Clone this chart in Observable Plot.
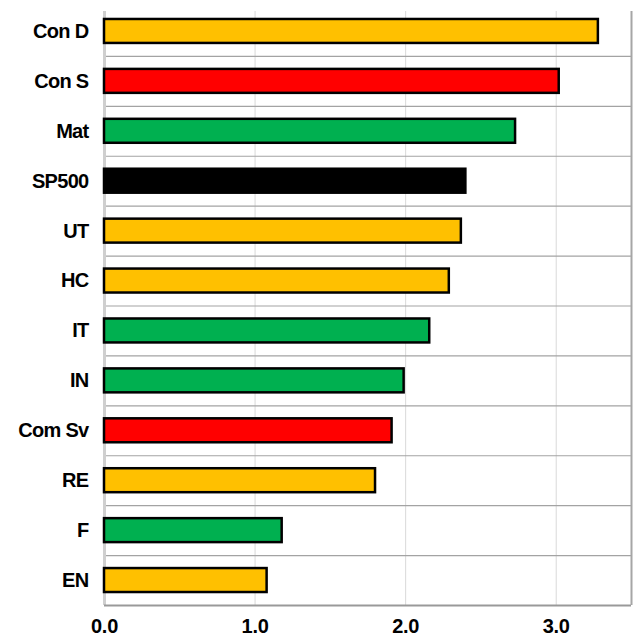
<!DOCTYPE html>
<html>
<head>
<meta charset="utf-8">
<script src="https://cdn.jsdelivr.net/npm/d3@7"></script>
<script src="https://cdn.jsdelivr.net/npm/@observablehq/plot@0.6"></script>
<style>
  html, body { margin: 0; padding: 0; background: #fff; }
</style>
</head>
<body>
<div id="chart"></div>
<script>
const categories = ["Con D", "Con S", "Mat", "SP500", "UT", "HC", "IT", "IN", "Com Sv", "RE", "F", "EN"];
const values = [3.28, 3.02, 2.73, 2.40, 2.37, 2.29, 2.16, 1.99, 1.91, 1.80, 1.18, 1.08];
const groups = ["A", "B", "C", "D", "A", "A", "C", "C", "B", "A", "C", "A"];
const xTicks = [0, 1, 2, 3];

const groupNames = ["A", "B", "C", "D"];
const groupColors = ["#FFC000", "#FF0000", "#00B050", "#000000"];

const data = categories.map((c, i) => ({cat: c, idx: i, value: values[i], group: groups[i]}));
const gaps = d3.range(categories.length - 1).map(i => i + 0.5);

const chart = Plot.plot({
  width: 636,
  height: 636,
  marginLeft: 104,
  marginRight: 5,
  marginTop: 6,
  marginBottom: 31,
  style: {fontFamily: "'Liberation Sans', Arial, Helvetica, sans-serif", fontSize: "20px", fontWeight: "bold", color: "#000", background: "#fff"},
  x: {domain: [0, 3.5], ticks: xTicks, tickFormat: d3.format(".1f"), tickSize: 0, tickPadding: 13, label: null},
  y: {domain: [-0.5, categories.length - 0.5], reverse: true, ticks: d3.range(categories.length), tickFormat: i => categories[i], tickSize: 0, tickPadding: 16, label: null},
  color: {type: "ordinal", domain: groupNames, range: groupColors},
  marks: [
    Plot.ruleX(xTicks.slice(1), {y1: -0.4, y2: categories.length - 0.5, stroke: "#d9d9d9", strokeWidth: 1}),
    Plot.ruleY(gaps, {x1: 0, x2: 3.5, stroke: "#a3a3a3", strokeWidth: 1.2}),
    Plot.ruleX([3.5], {y1: -0.4, y2: categories.length - 0.5, stroke: "#a6a6a6", strokeWidth: 2}),
    Plot.ruleX([0], {y1: -0.4, y2: categories.length - 0.5, stroke: "#cfcfcf", strokeWidth: 3}),
    Plot.ruleY([categories.length - 0.5], {x1: 0, x2: 3.5, stroke: "#999999", strokeWidth: 2}),
    Plot.rectX(data, {x1: 0, x2: "value", y1: d => d.idx - 0.24, y2: d => d.idx + 0.24, fill: "group", stroke: "#000", strokeWidth: 2.5})
  ]
});
chart.querySelectorAll("g[aria-label='y-axis tick label'] text, g[aria-label='y-axis'] text").forEach(t => t.setAttribute("letter-spacing", "-0.7"));
chart.querySelectorAll("g[aria-label='x-axis tick label'] text, g[aria-label='x-axis'] text").forEach(t => t.setAttribute("letter-spacing", "-0.3"));
document.getElementById("chart").appendChild(chart);
</script>
</body>
</html>
